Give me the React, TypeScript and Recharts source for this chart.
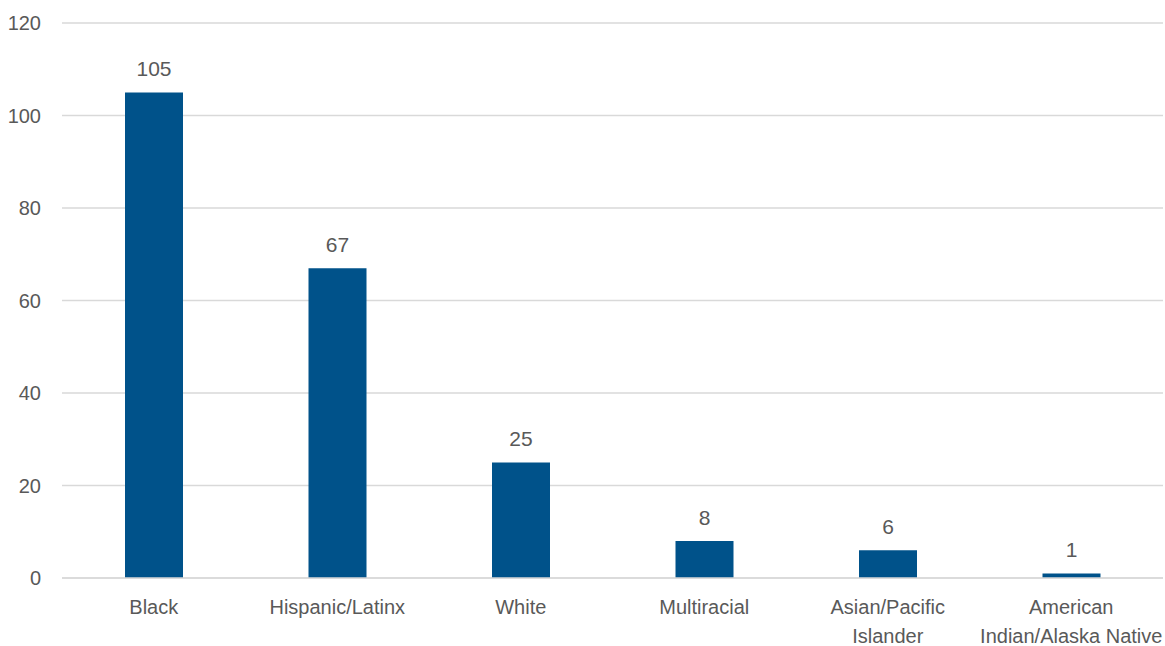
import { BarChart, Bar, XAxis, YAxis, CartesianGrid, LabelList } from "recharts";

const categories = [
  "Black",
  "Hispanic/Latinx",
  "White",
  "Multiracial",
  "Asian/Pacific Islander",
  "American Indian/Alaska Native",
];
const counts = [105, 67, 25, 8, 6, 1];
const yTicks = [0, 20, 40, 60, 80, 100, 120];
const tickLines: Record<string, string[]> = {
  "Asian/Pacific Islander": ["Asian/Pacific", "Islander"],
  "American Indian/Alaska Native": ["American", "Indian/Alaska Native"],
};

const data = categories.map((name, i) => ({ name, value: counts[i] }));

const FONT = '"Liberation Sans Narrow", "Arial Narrow", sans-serif';
const TEXT = "#595959";

function CategoryTick(props: any) {
  const { x, y, payload } = props;
  const lines = tickLines[payload.value] ?? [payload.value];
  return (
    <text x={x} y={y + 36} textAnchor="middle" fill={TEXT} fontSize={20} fontFamily={FONT}>
      {lines.map((l, i) => (
        <tspan key={i} x={x} dy={i === 0 ? 0 : 29}>
          {l}
        </tspan>
      ))}
    </text>
  );
}

export default function App() {
  return (
    <div style={{ position: "absolute", left: 0, top: 0, background: "#fff" }}>
      <BarChart
        width={1165}
        height={646}
        data={data}
        margin={{ top: 23, right: 2, left: 0, bottom: 0 }}
      >
        <CartesianGrid vertical={false} stroke="#d9d9d9" strokeWidth={1.3} />
        <XAxis
          dataKey="name"
          axisLine={{ stroke: "#d9d9d9", strokeWidth: 1.3 }}
          tickLine={false}
          tickSize={0}
          tickMargin={0}
          height={68}
          interval={0}
          tick={<CategoryTick />}
        />
        <YAxis
          domain={[0, 120]}
          ticks={yTicks}
          axisLine={false}
          tickLine={false}
          tickSize={0}
          tickMargin={21}
          width={62}
          tick={{ fill: TEXT, fontSize: 20, fontFamily: FONT }}
        />
        <Bar dataKey="value" fill="#00528a" barSize={58} isAnimationActive={false}>
          <LabelList
            dataKey="value"
            position="top"
            offset={16}
            fill={TEXT}
            fontSize={21}
            fontFamily={FONT}
          />
        </Bar>
      </BarChart>
    </div>
  );
}
